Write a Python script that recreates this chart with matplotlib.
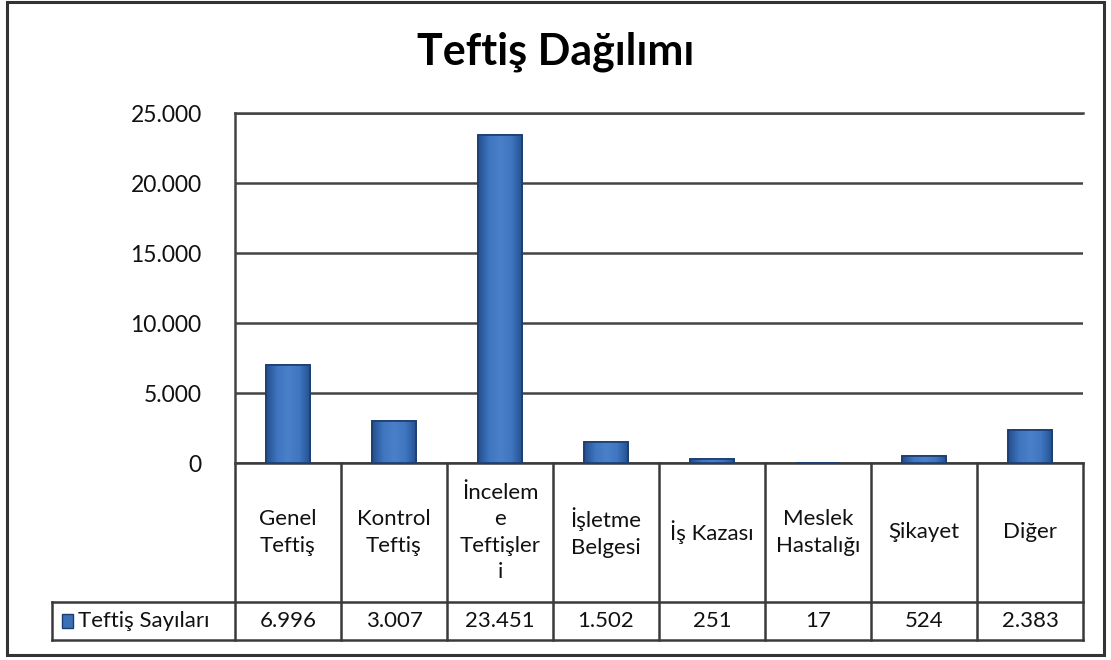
import numpy as np
import matplotlib.pyplot as plt
from matplotlib.ticker import FuncFormatter, MultipleLocator
from matplotlib.transforms import blended_transform_factory
from matplotlib.patches import Rectangle
from matplotlib.colors import LinearSegmentedColormap

plt.rcParams['font.family'] = ['Lato', 'DejaVu Sans']

title = 'Teftiş Dağılımı'
series_name = 'Teftiş Sayıları'
categories = ['Genel\nTeftiş', 'Kontrol\nTeftiş', 'İncelem\ne\nTeftişler\ni',
              'İşletme\nBelgesi', 'İş Kazası', 'Meslek\nHastalığı', 'Şikayet', 'Diğer']
values = [6996, 3007, 23451, 1502, 251, 17, 524, 2383]


def dotted(v, pos=None):
    return f'{int(v):,}'.replace(',', '.')


def main():
    fig = plt.figure(figsize=(11.11, 6.6), dpi=100)
    W, H = 1111, 660

    # outer frame
    fig.patches.append(Rectangle((7 / W, 5 / H), 1097 / W, 653 / H, transform=fig.transFigure,
                                 fill=False, edgecolor='#333333', linewidth=2.2))

    left, top, right, bottom = 235, 113, 1083, 463
    ax = fig.add_axes([left / W, 1 - bottom / H, (right - left) / W, (bottom - top) / H])

    x = np.arange(len(values))
    bars = ax.bar(x, values, width=0.42, color='#3b6fb6', edgecolor='#1c3d70',
                  linewidth=1.2, zorder=3)

    # soft shading across each bar
    cmap = LinearSegmentedColormap.from_list('bev', ['#234f8e', '#3f76c0', '#4a80c8',
                                                     '#3f76c0', '#234f8e'])
    grad = np.linspace(0, 1, 64).reshape(1, -1)
    for b in bars:
        bx, by = b.get_x(), b.get_y()
        im = ax.imshow(grad, cmap=cmap, aspect='auto', zorder=3.5,
                       extent=(bx, bx + b.get_width(), by, by + b.get_height()))
        im.set_clip_path(b)
    for b in bars:
        ax.add_patch(Rectangle((b.get_x(), b.get_y()), b.get_width(), b.get_height(),
                               fill=False, edgecolor='#1c3d70', linewidth=1.2, zorder=4))

    ax.set_xlim(-0.5, len(values) - 0.5)
    ax.set_ylim(0, 25000)
    ax.yaxis.set_major_locator(MultipleLocator(5000))
    ax.yaxis.set_major_formatter(FuncFormatter(dotted))
    ax.tick_params(axis='y', length=0, pad=24, labelsize=16.5, labelcolor='#111111')
    ax.set_xticks([])
    ax.grid(axis='y', color='#444444', linewidth=1.8, zorder=0)
    for s in ['right', 'bottom']:
        ax.spines[s].set_visible(False)
    for s in ['top', 'left']:
        ax.spines[s].set_color('#444444')
        ax.spines[s].set_linewidth(1.8)

    fig.text(0.5, 1 - 52 / H, title, ha='center', va='center', fontsize=31, fontweight='bold')

    # data table below the axes
    tr = blended_transform_factory(ax.transData, ax.transAxes)
    ph = bottom - top
    y0 = 0.0
    y1 = -(602 - bottom) / ph
    y2 = -(640 - bottom) / ph
    xl = -0.5 - (left - 52) / 106
    lc = '#3a3a3a'
    lw = 1.8
    n = len(values)
    ax.plot([-0.5, n - 0.5], [y0, y0], color=lc, lw=lw, transform=tr, clip_on=False)
    ax.plot([xl, n - 0.5], [y1, y1], color=lc, lw=lw, transform=tr, clip_on=False)
    ax.plot([xl, n - 0.5], [y2, y2], color=lc, lw=lw, transform=tr, clip_on=False)
    ax.plot([xl, xl], [y1, y2], color=lc, lw=lw, transform=tr, clip_on=False)
    for i in range(n + 1):
        ax.plot([i - 0.5, i - 0.5], [y0, y2], color=lc, lw=lw, transform=tr, clip_on=False)

    for i, (c, v) in enumerate(zip(categories, values)):
        ax.text(i, (y0 + y1) / 2, c, ha='center', va='center', fontsize=16,
                linespacing=1.4, transform=tr, color='#111111')
        ax.text(i, (y1 + y2) / 2, dotted(v), ha='center', va='center', fontsize=16,
                transform=tr, color='#111111')

    # legend key in the table
    kx = xl + 0.09
    ax.add_patch(Rectangle((kx, (y1 + y2) / 2 - 0.019), 0.11, 0.038, transform=tr,
                           facecolor='#3b6fb6', edgecolor='#1c3d70', clip_on=False))
    ax.text(kx + 0.16, (y1 + y2) / 2, series_name, ha='left', va='center', fontsize=16,
            transform=tr, color='#111111')

    fig.savefig('out.png', dpi=100)


if __name__ == '__main__':
    main()
